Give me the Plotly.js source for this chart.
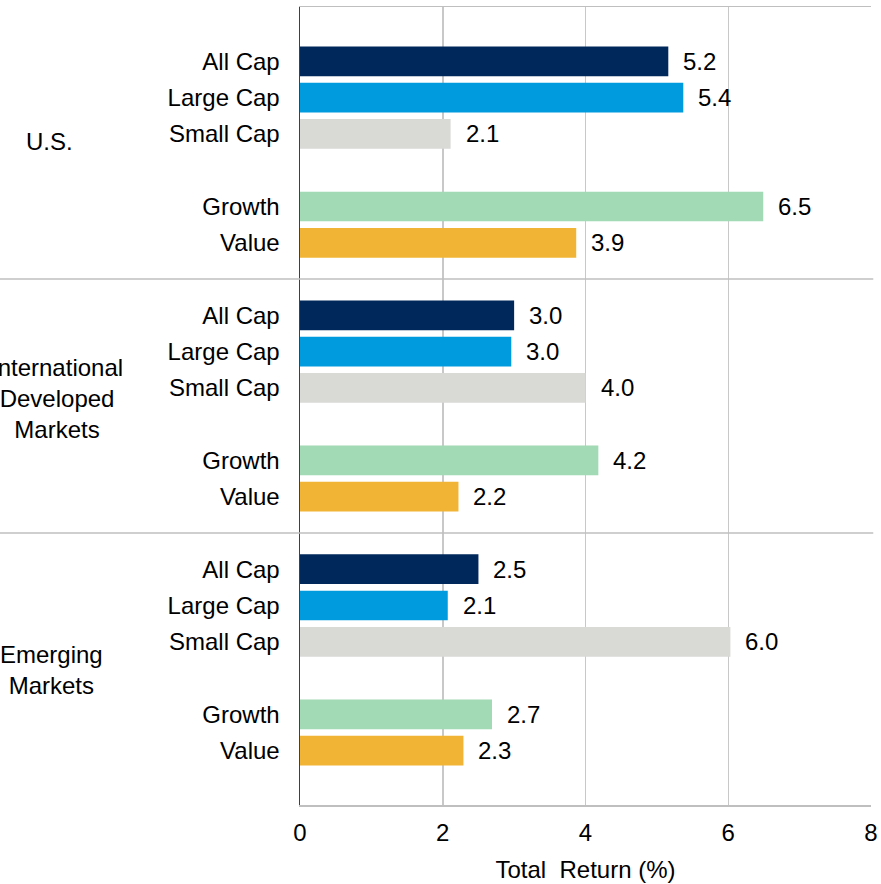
<!DOCTYPE html>
<html>
<head>
<meta charset="utf-8">
<script src="https://cdn.plot.ly/plotly-3.0.1.min.js"></script>
<style>html,body{margin:0;padding:0;background:#fff;}#chart{width:881px;height:884px;}</style>
</head>
<body>
<div id="chart"></div>
<script>
// ---- data ----
const groups = ['U.S.', 'International<br>Developed<br>Markets', 'Emerging<br>Markets'];
const styles = ['All Cap', 'Large Cap', 'Small Cap', 'Growth', 'Value'];
const allCap   = [5.16, 3.00, 2.50];
const largeCap = [5.37, 2.96, 2.07];
const smallCap = [2.11, 4.00, 6.03];
const growth   = [6.49, 4.18, 2.69];
const value    = [3.87, 2.22, 2.29];
const xTicks = [0, 2, 4, 6, 8];

// ---- styling / layout helpers ----
const series = [allCap, largeCap, smallCap, growth, value];
const colors = ['#00285A', '#009ADE', '#D9D9D6', '#A1DAB4', '#F1B434'];
const slotOffset = [0, 1, 2, 4, 5];
const groupStep = 7;
const groupLabelOffset = [2.22, 2.29, 2.78];
const groupLabelX = [-0.438, -0.425, -0.435];
const FONT = 'Liberation Sans, Arial, Helvetica, sans-serif';

const traces = [];
const annotations = [];
const tickvals = [];
const ticktext = [];

series.forEach((vals, si) => {
  const ys = vals.map((v, gi) => gi * groupStep + slotOffset[si]);
  traces.push({
    type: 'bar',
    orientation: 'h',
    name: styles[si],
    x: vals,
    y: ys,
    width: 0.82,
    marker: {color: colors[si], line: {width: 0}},
    hoverinfo: 'x+name'
  });
  vals.forEach((v, gi) => {
    tickvals.push(ys[gi]);
    ticktext.push(styles[si]);
    annotations.push({
      x: v, y: ys[gi], xref: 'x', yref: 'y',
      text: (Math.round(v * 10) / 10).toFixed(1),
      showarrow: false, xanchor: 'left', yanchor: 'middle', xshift: 13,
      font: {family: FONT, size: 24, color: '#000'}
    });
  });
});

groups.forEach((g, gi) => {
  annotations.push({
    x: groupLabelX[gi], xref: 'paper', y: gi * groupStep + groupLabelOffset[gi], yref: 'y',
    text: g, showarrow: false, xanchor: 'center', yanchor: 'middle', align: 'center',
    font: {family: FONT, size: 24, color: '#000'}
  });
});

const shapes = [1, 2].map(k => ({
  type: 'line', xref: 'paper', yref: 'y',
  x0: -0.6, x1: 1.004, y0: k * groupStep - 1, y1: k * groupStep - 1,
  line: {color: '#BFBFBF', width: 1.5}
}));

const layout = {
  width: 881, height: 884,
  margin: {l: 300, r: 10, t: 7, b: 79},
  paper_bgcolor: '#fff', plot_bgcolor: '#fff',
  showlegend: false,
  barmode: 'overlay',
  font: {family: FONT, size: 24, color: '#000'},
  xaxis: {
    range: [0, 8], tickvals: xTicks, ticktext: xTicks.map(String),
    showgrid: true, gridcolor: '#C8C8C8', gridwidth: 1.5,
    zeroline: false, showline: true, mirror: true, linecolor: '#BFBFBF', linewidth: 1.5,
    ticks: '', ticklabelstandoff: 6,
    tickfont: {family: FONT, size: 24, color: '#000'},
    title: {text: 'Total&nbsp; Return (%)', font: {family: FONT, size: 24, color: '#000'}, standoff: 16},
    fixedrange: true
  },
  yaxis: {
    range: [20.5, -1.5], tickvals: tickvals, ticktext: ticktext,
    showgrid: false, zeroline: false, showline: true, linecolor: '#404040', linewidth: 1.5,
    ticks: '', ticklabelstandoff: 14,
    tickfont: {family: FONT, size: 24, color: '#000'},
    fixedrange: true
  },
  annotations: annotations,
  shapes: shapes
};

Plotly.newPlot('chart', traces, layout, {displayModeBar: false, staticPlot: true});
</script>
</body>
</html>
